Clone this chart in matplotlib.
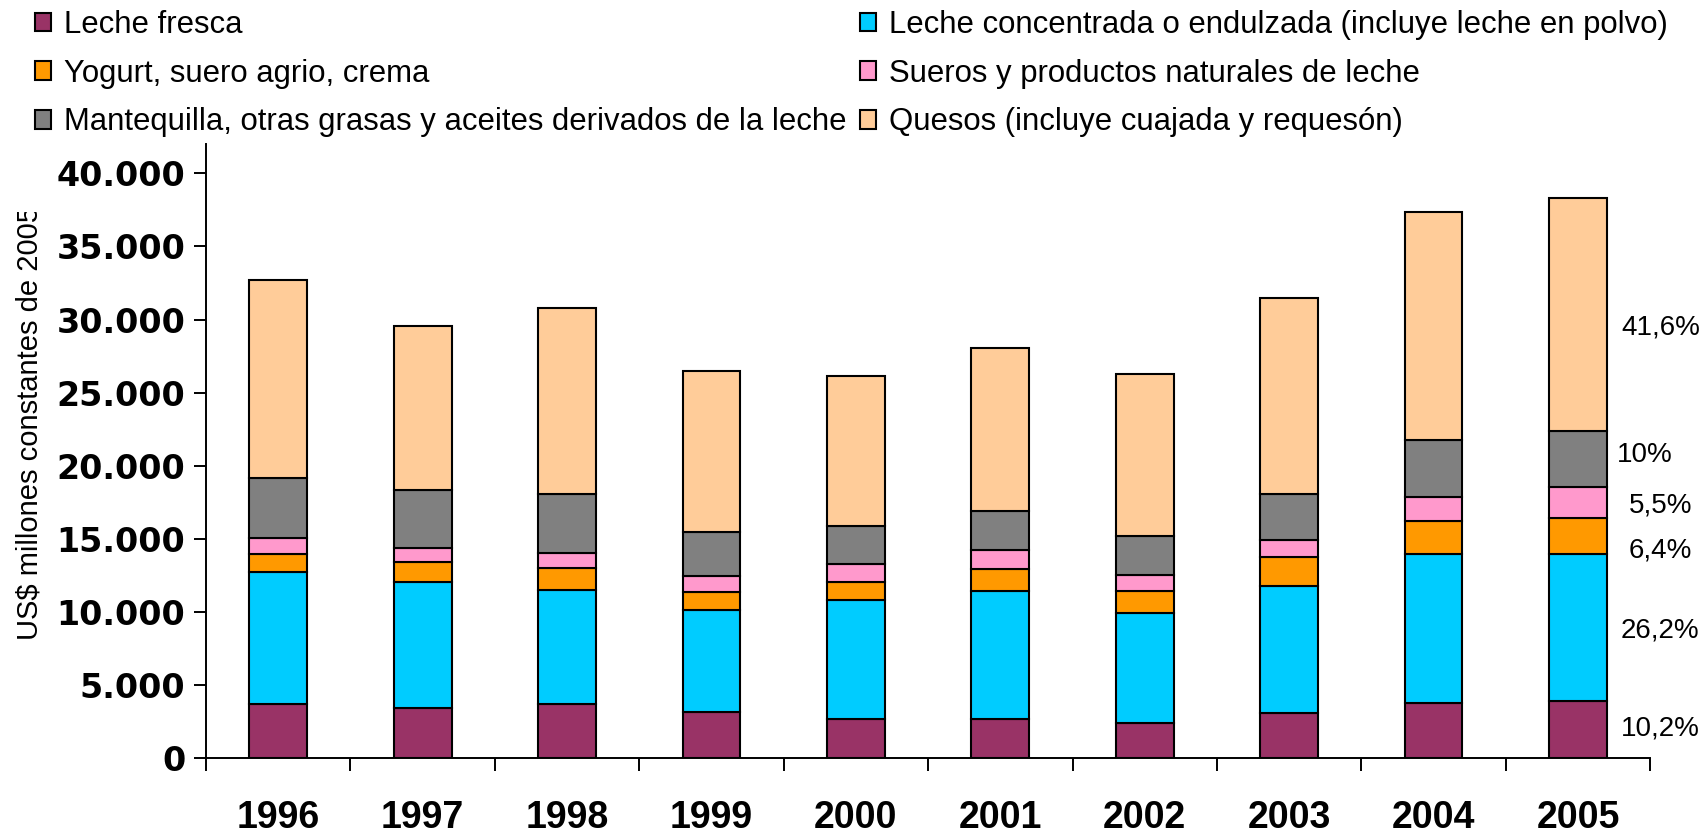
import numpy as np
import matplotlib
matplotlib.use('Agg')
import matplotlib.pyplot as plt
from matplotlib.ticker import FuncFormatter
from matplotlib.transforms import Bbox, TransformedBbox

plt.rcParams['font.family'] = ['Liberation Sans', 'DejaVu Sans']

# data (US$ millones constantes de 2005)
years = ['1996', '1997', '1998', '1999', '2000', '2001', '2002', '2003', '2004', '2005']
leche_fresca = [3700, 3400, 3700, 3150, 2690, 2660, 2400, 3100, 3790, 3910]
leche_concentrada = [9020, 8650, 7780, 6960, 8110, 8780, 7540, 8640, 10150, 10050]
yogurt = [1230, 1350, 1510, 1240, 1230, 1520, 1500, 2040, 2300, 2450]
sueros = [1070, 940, 1070, 1090, 1230, 1240, 1110, 1110, 1620, 2110]
mantequilla = [4110, 3990, 4000, 3020, 2610, 2710, 2630, 3150, 3900, 3840]
quesos = [13560, 11210, 12720, 11050, 10250, 11120, 11070, 13400, 15570, 15950]

series_names = ['Leche fresca',
                'Leche concentrada o endulzada (incluye leche en polvo)',
                'Yogurt, suero agrio, crema',
                'Sueros y productos naturales de leche',
                'Mantequilla, otras grasas y aceites derivados de la leche',
                'Quesos (incluye cuajada y requesón)']
colors = ['#993366', '#00CCFF', '#FF9900', '#FF99CC', '#808080', '#FFCC99']

# share of each product in 2005 (labels at the right of the last bar)
pct_labels = ['10,2%', '26,2%', '6,4%', '5,5%', '10%', '41,6%']
pct_y = [2050, 8750, 14200, 17300, 20700, 29450]
pct_x = [9.57, 9.57, 9.57, 9.57, 9.46, 9.57]

fig = plt.figure(figsize=(17.03, 8.33), dpi=100)
ax = fig.add_axes([0.121, 0.090, 0.848, 0.737])

x = np.arange(len(years))
bottom = np.zeros(len(years))
handles = []
for vals, name, col in zip([leche_fresca, leche_concentrada, yogurt, sueros, mantequilla, quesos],
                           series_names, colors):
    b = ax.bar(x, vals, 0.40, bottom=bottom, color=col, edgecolor='black',
               linewidth=1.5, label=name)
    handles.append(b)
    bottom += np.array(vals)

ax.set_xlim(-0.5, 9.5)
ax.set_ylim(0, 42000)
ax.set_yticks(np.arange(0, 40001, 5000))
ax.yaxis.set_major_formatter(FuncFormatter(lambda v, p: f'{int(v):,}'.replace(',', '.')))
ax.set_xticks(x, years)
ax.set_xticks(np.arange(-0.5, 10, 1), minor=True)

for s in ['top', 'right']:
    ax.spines[s].set_visible(False)
for s in ['left', 'bottom']:
    ax.spines[s].set_linewidth(1.4)

ax.tick_params(axis='y', direction='out', length=9, width=1.4, pad=6, labelsize=24)
ax.tick_params(axis='x', which='major', length=0, pad=30, labelsize=27)
ax.tick_params(axis='x', which='minor', direction='out', length=9, width=1.4)
for lab in ax.get_xticklabels():
    lab.set_fontweight('bold')
for lab in ax.get_yticklabels():
    lab.set_fontweight('bold')
    lab.set_family('DejaVu Sans')

for lbl, xx, yy in zip(pct_labels, pct_x, pct_y):
    ax.text(xx, yy, lbl, ha='center', va='center', fontsize=20, clip_on=False)

# y label, clipped at the top as in the original
yl = fig.text(30 / 1703, 1 - 423 / 833, 'US$ millones constantes de 2005', rotation=90,
              ha='center', va='center', fontsize=21)
clip = TransformedBbox(Bbox([[0, 0], [1, 1 - 212 / 833]]), fig.transFigure)
yl.set_clip_box(clip)
yl.set_clip_on(True)

# legend, row-wise order in two columns
order = [0, 2, 4, 1, 3, 5]
fig.legend([handles[i] for i in order], [series_names[i] for i in order],
           loc='upper left', bbox_to_anchor=(35 / 1703, 1 - 10 / 833), ncol=2,
           frameon=False, fontsize=22.4, borderpad=0, borderaxespad=0,
           handlelength=0.5, handleheight=0.55, handletextpad=0.42,
           columnspacing=0.45, labelspacing=0.6)

plt.savefig('out.png', dpi=100)
